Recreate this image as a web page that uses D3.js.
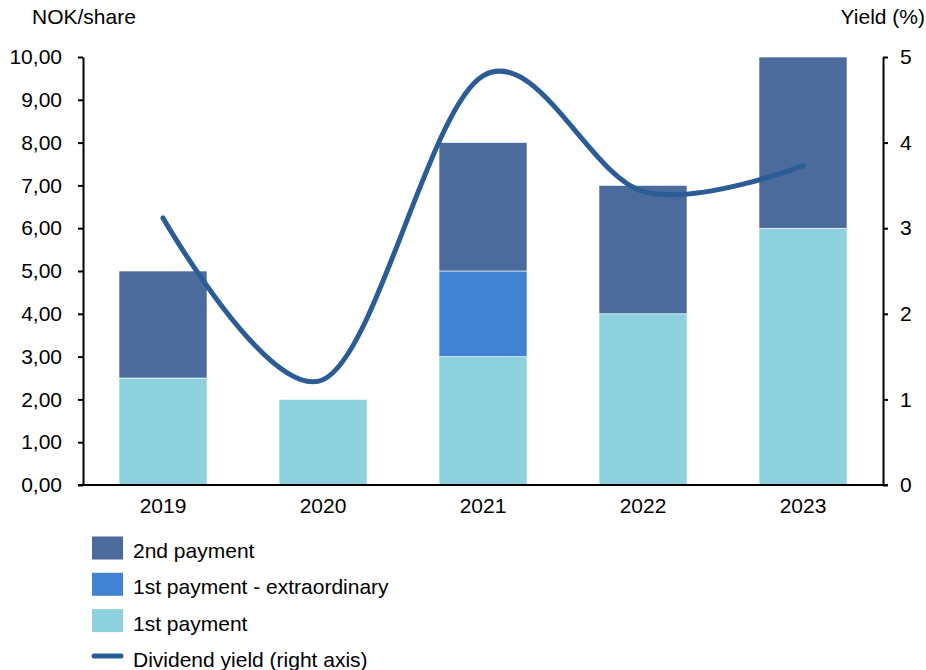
<!DOCTYPE html>
<html>
<head>
<meta charset="utf-8">
<script src="https://cdn.jsdelivr.net/npm/d3@7"></script>
<style>
  body { margin: 0; background: #fff; }
  svg text { font-family: "Liberation Sans", Arial, sans-serif; fill: #000; }
</style>
</head>
<body>
<svg id="chart" width="926" height="670"></svg>
<script>
// Dividend per share (NOK), split by payment type, with dividend yield
const years = ["2019", "2020", "2021", "2022", "2023"];
const firstPayment = [2.5, 2.0, 3.0, 4.0, 6.0];
const firstExtraordinary = [0, 0, 2.0, 0, 0];
const secondPayment = [2.5, 0, 3.0, 3.0, 4.0];
const dividendYield = [3.12, 1.23, 4.78, 3.43, 3.73];

const leftTicks = [0, 1, 2, 3, 4, 5, 6, 7, 8, 9, 10];
const rightTicks = [0, 1, 2, 3, 4, 5];

const seriesNames = ["1st payment", "1st payment - extraordinary", "2nd payment"];
const seriesColors = ["#8ed1de", "#4282d2", "#4a6b9b"];
const lineColor = "#2b5c95";
const fontSize = "21px";

const svg = d3.select("#chart");
const m = { left: 83, right: 883, top: 57, bottom: 485 };

const x = d3.scaleBand().domain(years).range([m.left, m.right]).paddingInner(0.45).paddingOuter(0.225);
const yL = d3.scaleLinear().domain([0, 10]).range([m.bottom, m.top]);
const yR = d3.scaleLinear().domain([0, 5]).range([m.bottom, m.top]);

// stacked bars
const rows = years.map((yr, i) => ({
  year: yr,
  "1st payment": firstPayment[i],
  "1st payment - extraordinary": firstExtraordinary[i],
  "2nd payment": secondPayment[i]
}));
const stacked = d3.stack().keys(seriesNames)(rows);

svg.append("g").selectAll("g")
  .data(stacked)
  .join("g")
  .attr("fill", (d, i) => seriesColors[i])
  .selectAll("rect")
  .data(d => d.filter(p => p[1] - p[0] > 0))
  .join("rect")
  .attr("x", d => x(d.data.year))
  .attr("width", x.bandwidth())
  .attr("y", d => yL(d[1]))
  .attr("height", d => yL(d[0]) - yL(d[1]))
  .attr("stroke", "#ffffff")
  .attr("stroke-width", 0.6);

// axes
const axisLeft = d3.axisLeft(yL).tickValues(leftTicks).tickSize(5).tickSizeOuter(0).tickPadding(16)
  .tickFormat(d => d3.format(".2f")(d).replace(".", ","));
const gL = svg.append("g").attr("transform", `translate(${m.left},0)`).call(axisLeft);

const axisRight = d3.axisRight(yR).tickValues(rightTicks).tickSize(5).tickSizeOuter(0).tickPadding(12)
  .tickFormat(d3.format("d"));
const gR = svg.append("g").attr("transform", `translate(${m.right},0)`).call(axisRight);

const axisBottom = d3.axisBottom(x).tickSize(0).tickSizeOuter(0).tickPadding(13);
const gB = svg.append("g").attr("transform", `translate(0,${m.bottom})`).call(axisBottom);

[gL, gR, gB].forEach(g => {
  g.selectAll("path.domain").attr("stroke", "#000").attr("stroke-width", 2);
  g.selectAll(".tick line").attr("stroke", "#000").attr("stroke-width", 2);
  g.selectAll("text").style("font-size", fontSize).attr("fill", "#000");
});
gB.select("path.domain").attr("d", `M${m.left - 5},0H${m.right + 5}`);

// yield line
const line = d3.line()
  .x((d, i) => x(years[i]) + x.bandwidth() / 2)
  .y(d => yR(d))
  .curve(d3.curveCatmullRom.alpha(0));
svg.append("path")
  .datum(dividendYield)
  .attr("d", line)
  .attr("fill", "none")
  .attr("stroke", lineColor)
  .attr("stroke-width", 5)
  .attr("stroke-linecap", "round");

// axis titles
svg.append("text").attr("x", 32).attr("y", 23.5).style("font-size", fontSize).text("NOK/share");
svg.append("text").attr("x", 925).attr("y", 23.5).attr("text-anchor", "end").style("font-size", fontSize).text("Yield (%)");

// legend
const legendItems = [
  { name: "2nd payment", color: seriesColors[2], type: "rect" },
  { name: "1st payment - extraordinary", color: seriesColors[1], type: "rect" },
  { name: "1st payment", color: seriesColors[0], type: "rect" },
  { name: "Dividend yield (right axis)", color: lineColor, type: "line" }
];
const lg = svg.append("g").selectAll("g").data(legendItems).join("g")
  .attr("transform", (d, i) => `translate(92,${548 + i * 36.3})`);
lg.filter(d => d.type === "rect").append("rect")
  .attr("x", 0).attr("y", -11.5).attr("width", 31).attr("height", 23)
  .attr("fill", d => d.color);
lg.filter(d => d.type === "line").append("line")
  .attr("x1", 2).attr("x2", 29).attr("y1", -1).attr("y2", -1)
  .attr("stroke", d => d.color).attr("stroke-width", 5).attr("stroke-linecap", "round");
lg.append("text").attr("x", 41).attr("y", 10).style("font-size", fontSize).text(d => d.name);
</script>
</body>
</html>
